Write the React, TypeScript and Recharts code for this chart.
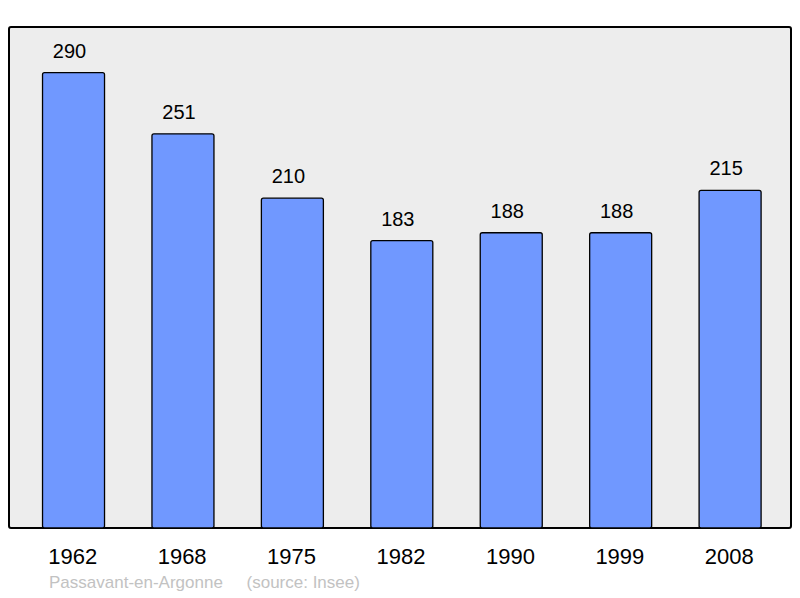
import { BarChart, Bar, XAxis, YAxis, LabelList } from 'recharts';

const years = ['1962', '1968', '1975', '1982', '1990', '1999', '2008'];
const population = [290, 251, 210, 183, 188, 188, 215];

const data = years.map((year, i) => ({ year, population: population[i] }));

const FONT = '"Liberation Sans", Arial, sans-serif';

export default function App() {
  return (
    <div style={{ position: 'absolute', left: 0, top: 0, width: 800, height: 598, background: '#fff', fontFamily: FONT }}>
      {/* plot frame */}
      <div
        style={{
          position: 'absolute',
          left: 8,
          top: 26,
          width: 780,
          height: 499,
          background: '#ededed',
          border: '2px solid #000',
          borderRadius: 3,
        }}
      />
      <BarChart
        width={800}
        height={598}
        data={data}
        margin={{ top: 27, right: 9, left: 9, bottom: 30 }}
        barCategoryGap="21.5%"
        style={{ position: 'absolute', left: 0, top: 0 }}
      >
        <XAxis
          dataKey="year"
          height={40}
          padding={{ left: 10, right: 6 }}
          axisLine={false}
          tickLine={false}
          tickMargin={14}
          tick={{ fill: '#000', fontSize: 22, fontFamily: FONT, dx: -1 }}
        />
        <YAxis hide domain={[0, 319]} />
        <Bar dataKey="population" fill="#7098ff" stroke="#000" strokeWidth={1.3} radius={2} isAnimationActive={false}>
          <LabelList dataKey="population" position="top" offset={15} dx={-4} fill="#000" style={{ fontSize: 20, fontFamily: FONT }} />
        </Bar>
      </BarChart>
      <div style={{ position: 'absolute', left: 49, top: 573, fontSize: 17, color: '#c2c2c2', whiteSpace: 'pre' }}>
        Passavant-en-Argonne{'     '}(source: Insee)
      </div>
    </div>
  );
}
